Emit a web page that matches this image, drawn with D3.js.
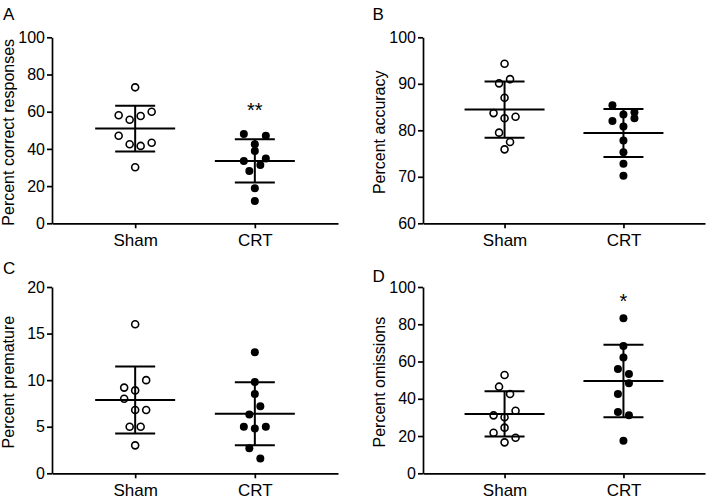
<!DOCTYPE html>
<html>
<head>
<meta charset="utf-8">
<script src="https://cdn.jsdelivr.net/npm/d3@7"></script>
<style>
  body { margin: 0; background: #fff; }
  text { font-family: "Liberation Sans", Arial, sans-serif; fill: #000; }
</style>
</head>
<body>
<svg id="chart" width="706" height="503"></svg>
<script>
const groups = ['Sham', 'CRT'];
const panelLetters = ['A', 'B', 'C', 'D'];
const yTitles = ['Percent correct responses', 'Percent accuracy', 'Percent premature', 'Percent omissions'];

// individual animals, values
const correctSham = [73.1, 58.1, 55.7, 57.7, 60.0, 47.1, 42.5, 41.6, 43.3, 30.1];
const correctCRT = [48.0, 42.5, 47.1, 33.5, 38.9, 34.9, 28.1, 31.3, 18.8, 12.0];
const accuracySham = [94.3, 90.1, 91.0, 87.0, 83.7, 82.6, 82.9, 79.5, 77.5, 75.9];
const accuracyCRT = [85.4, 83.4, 83.9, 82.0, 80.8, 82.6, 77.8, 75.3, 72.8, 70.2];
const prematureSham = [16.0, 9.2, 8.9, 10.0, 8.0, 6.8, 6.8, 5.0, 5.0, 3.0];
const prematureCRT = [13.0, 9.8, 8.5, 6.3, 7.2, 5.0, 4.8, 5.0, 2.7, 1.6];
const omissionsSham = [52.8, 46.5, 42.6, 31.1, 30.1, 33.6, 21.8, 24.5, 19.1, 16.6];
const omissionsCRT = [83.2, 68.3, 62.1, 56.0, 53.3, 42.6, 48.3, 32.9, 31.1, 17.5];

const correctTicks = [0, 20, 40, 60, 80, 100];
const accuracyTicks = [60, 70, 80, 90, 100];
const prematureTicks = [0, 5, 10, 15, 20];
const omissionsTicks = [0, 20, 40, 60, 80, 100];

// significance marks above CRT, and the value where they sit
const starLabels = ['**', '', '', '*'];
const starValues = [57, 0, 0, 88.6];

const shamData = [correctSham, accuracySham, prematureSham, omissionsSham];
const crtData = [correctCRT, accuracyCRT, prematureCRT, omissionsCRT];
const tickSets = [correctTicks, accuracyTicks, prematureTicks, omissionsTicks];

// layout of the 2x2 grid
const layout = [
  { left: 52, right: 338, pad: 0.695, top: 37.3, bottom: 223.3, letterX: 3, letterY: 20 },
  { left: 423, right: 705, pad: 0.686, top: 37.3, bottom: 223.3, letterX: 372.5, letterY: 19.5 },
  { left: 52, right: 338, pad: 0.695, top: 287, bottom: 473.3, letterX: 3, letterY: 274 },
  { left: 423, right: 705, pad: 0.686, top: 287, bottom: 473.3, letterX: 372.5, letterY: 282 }
];

const rowGap = 11.3;   // px: points closer than this share a row
const spread = 11;     // px between points in a row
const fontSize = 16;

const svg = d3.select('#chart');

function swarm(values, y) {
  const order = d3.range(values.length).sort((a, b) => values[b] - values[a]);
  const rows = [];
  order.forEach(i => {
    const row = rows[rows.length - 1];
    if (row && Math.abs(y(values[row[0]]) - y(values[i])) <= rowGap) row.push(i);
    else rows.push([i]);
  });
  const dx = new Array(values.length);
  rows.forEach(row => {
    row.sort((a, b) => a - b);
    row.forEach((i, k) => { dx[i] = (k - (row.length - 1) / 2) * spread; });
  });
  return dx;
}

function drawPanel(k) {
  const L = layout[k];
  const ticks = tickSets[k];
  const g = svg.append('g');

  const x = d3.scalePoint().domain(groups).range([L.left, L.right]).padding(L.pad);
  const y = d3.scaleLinear().domain(d3.extent(ticks)).range([L.bottom, L.top]);

  const xAxis = g.append('g')
    .attr('transform', `translate(0,${L.bottom})`)
    .call(d3.axisBottom(x).tickSize(5).tickSizeOuter(0).tickPadding(6));
  const yAxis = g.append('g')
    .attr('transform', `translate(${L.left},0)`)
    .call(d3.axisLeft(y).tickValues(ticks).tickSize(5).tickSizeOuter(0).tickPadding(2));

  [xAxis, yAxis].forEach(a => {
    a.attr('font-family', null).attr('font-size', null);
    a.selectAll('path, line').attr('stroke', '#000').attr('stroke-width', 1.7);
  });
  yAxis.selectAll('text').style('font-size', fontSize + 'px');
  xAxis.selectAll('text').style('font-size', '17px');

  // y title
  g.append('text')
    .attr('transform', `translate(${L.left - 38.5},${(L.top + L.bottom) / 2 + 2}) rotate(-90)`)
    .attr('text-anchor', 'middle')
    .style('font-size', fontSize + 'px')
    .text(yTitles[k]);

  // panel letter
  g.append('text')
    .attr('x', L.letterX)
    .attr('y', L.letterY)
    .style('font-size', '17px')
    .text(panelLetters[k]);

  [shamData[k], crtData[k]].forEach((values, gi) => {
    const cx = x(groups[gi]);
    const dx = swarm(values, y);

    g.append('g')
      .selectAll('circle')
      .data(values)
      .join('circle')
      .attr('cx', (d, i) => cx + dx[i])
      .attr('cy', d => y(d))
      .attr('r', gi === 0 ? 3.5 : 4)
      .attr('fill', gi === 0 ? 'none' : '#000')
      .attr('stroke', '#000')
      .attr('stroke-width', gi === 0 ? 1.6 : 0);

    const m = d3.mean(values);
    const sd = d3.deviation(values);
    const bars = g.append('g').attr('stroke', '#000').attr('stroke-width', 2);
    bars.append('line')
      .attr('x1', cx - 40).attr('x2', cx + 40)
      .attr('y1', y(m)).attr('y2', y(m));
    bars.append('line')
      .attr('x1', cx).attr('x2', cx)
      .attr('y1', y(m - sd)).attr('y2', y(m + sd));
    [m - sd, m + sd].forEach(v => {
      bars.append('line')
        .attr('x1', cx - 20).attr('x2', cx + 20)
        .attr('y1', y(v)).attr('y2', y(v));
    });
  });

  if (starLabels[k]) {
    g.append('text')
      .attr('x', x('CRT'))
      .attr('y', y(starValues[k]))
      .attr('text-anchor', 'middle')
      .style('font-size', '20px')
      .text(starLabels[k]);
  }
}

d3.range(4).forEach(drawPanel);
</script>
</body>
</html>
